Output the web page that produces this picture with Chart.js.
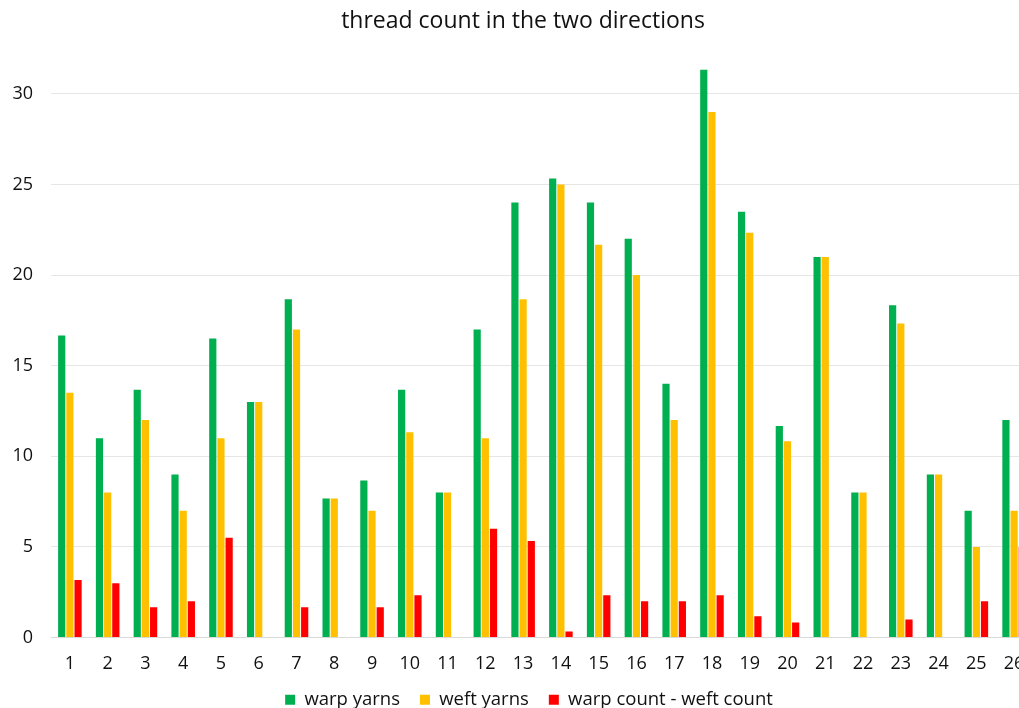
<!DOCTYPE html>
<html>
<head>
<meta charset="utf-8">
<script src="https://cdn.jsdelivr.net/npm/chart.js@4.4.1/dist/chart.umd.min.js"></script>
<style>
html, body { margin: 0; padding: 0; background: #fff; overflow: hidden; width: 1019px; height: 708px; }
#wrap { width: 1033px; height: 719px; }
canvas { display: block; }
</style>
</head>
<body>
<div id="wrap"><canvas id="c" width="1033" height="719"></canvas></div>
<script>
const categories = ["1","2","3","4","5","6","7","8","9","10","11","12","13","14","15","16","17","18","19","20","21","22","23","24","25","26"];
const warpYarns = [16.67, 11, 13.67, 9, 16.5, 13, 18.67, 7.67, 8.67, 13.67, 8, 17, 24, 25.33, 24, 22, 14, 31.33, 23.5, 11.67, 21, 8, 18.33, 9, 7, 12];
const weftYarns = [13.5, 8, 12, 7, 11, 13, 17, 7.67, 7, 11.33, 8, 11, 18.67, 25, 21.67, 20, 12, 29, 22.33, 10.83, 21, 8, 17.33, 9, 5, 7];
const difference = [3.17, 3, 1.67, 2, 5.5, 0, 1.67, 0, 1.67, 2.33, 0, 6, 5.33, 0.33, 2.33, 2, 2, 2.33, 1.17, 0.83, 0, 0, 1, 0, 2, 5];
const seriesNames = ["warp yarns", "weft yarns", "warp count - weft count"];
const yTicks = [0, 5, 10, 15, 20, 25, 30];

const FONT = "'Open Sans', 'Noto Sans', sans-serif";

const legendShift = {
  id: 'legendShift',
  afterLayout(chart) {
    if (chart.legend) { chart.legend.left += 6; chart.legend.right += 6; }
  }
};

new Chart(document.getElementById('c'), {
  type: 'bar',
  data: {
    labels: categories,
    datasets: [
      { label: seriesNames[0], data: warpYarns, backgroundColor: '#00B050' },
      { label: seriesNames[1], data: weftYarns, backgroundColor: '#FFC000' },
      { label: seriesNames[2], data: difference, backgroundColor: '#FF0000' }
    ]
  },
  plugins: [legendShift],
  options: {
    responsive: false,
    animation: false,
    devicePixelRatio: 1,
    datasets: { bar: { categoryPercentage: 0.65, barPercentage: 0.88 } },
    layout: { padding: { left: 13, right: 0, top: 4, bottom: 0 } },
    plugins: {
      title: {
        display: true,
        text: 'thread count in the two directions',
        color: '#111',
        font: { family: FONT, size: 23, weight: 'normal' },
        padding: { top: 4, bottom: 22 }
      },
      legend: {
        position: 'bottom',
        labels: {
          color: '#111',
          font: { family: FONT, size: 18.5 },
          boxWidth: 10,
          boxHeight: 10,
          padding: 20
        }
      },
      tooltip: { enabled: false }
    },
    scales: {
      x: {
        grid: { display: false, drawTicks: false },
        border: { display: true, color: '#d9d9d9' },
        ticks: { color: '#111', font: { family: FONT, size: 18, lineHeight: 52 / 18 }, padding: 0, maxRotation: 0, autoSkip: false },
        afterFit: (s) => { s.height = 33; }
      },
      y: {
        min: 0,
        max: 32,
        afterBuildTicks: (axis) => { axis.ticks = yTicks.map(v => ({ value: v })); },
        grid: { color: '#e6e6e6', drawTicks: false },
        border: { display: false },
        ticks: { color: '#111', font: { family: FONT, size: 18 }, padding: 18 },
        afterFit: (s) => { s.width = 38; }
      }
    }
  }
});
</script>
</body>
</html>
